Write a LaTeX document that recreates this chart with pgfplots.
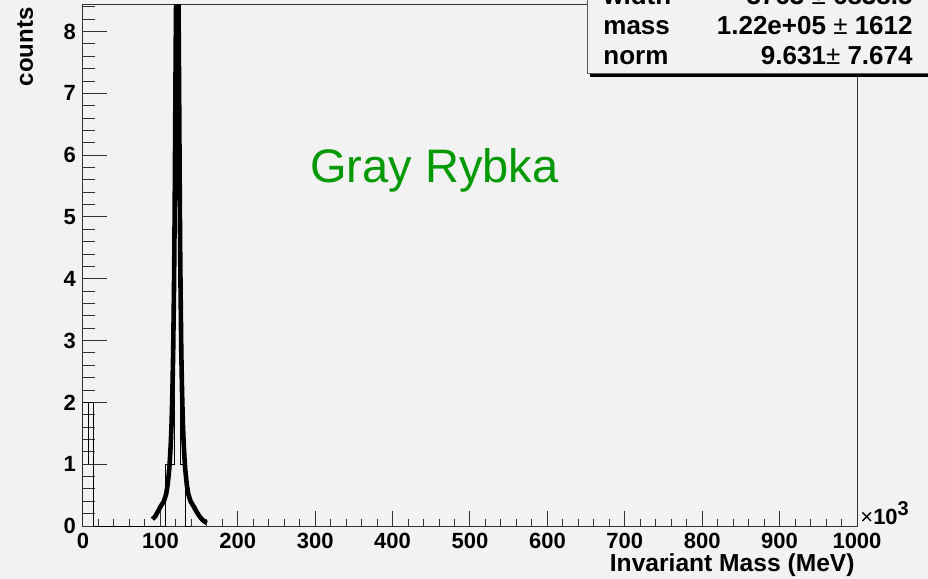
\documentclass[border=0pt]{standalone}
\usepackage{fontspec}
\setmainfont{Liberation Sans}
\usepackage{pgfplots}
\pgfplotsset{compat=1.18}
\definecolor{canvas}{RGB}{242,242,242}
\definecolor{labelgreen}{RGB}{0,153,0}
\begin{document}
\begin{tikzpicture}
\clip (-41.5pt,-26.5pt) rectangle (422.5pt,263pt);
\fill[canvas] (-41.5pt,-26.5pt) rectangle (422.5pt,263pt);
\begin{axis}[
  at={(0pt,0pt)}, anchor=south west,
  scale only axis, width=387pt, height=260.5pt,
  xmin=0, xmax=1000, ymin=0, ymax=8.43,
  axis line style={black!80, line width=0.5pt},
  xtick={0,100,...,1000}, ytick={0,1,...,9},
  minor x tick num=4, minor y tick num=4,
  tick pos=left, tick align=inside,
  major tick length=12pt, minor tick length=6pt,
  xtick style={/pgfplots/major tick length=7.5pt, /pgfplots/minor tick length=3.5pt},
  tick style={black!80, line width=0.5pt},
  ticklabel style={font=\fontsize{11}{12}\selectfont\bfseries},
  /pgf/number format/assume math mode=true,
  /pgf/number format/1000 sep={},
  scaled x ticks=false,
  xlabel={Invariant Mass (MeV)}, ylabel={counts},
  xlabel style={at={([xshift=-1pt,yshift=-22.5pt]rel axis cs:1,0)}, anchor=base east,
    inner sep=0pt, font=\fontsize{12.3}{14}\selectfont\bfseries},
  ylabel style={at={([xshift=-25pt,yshift=-1pt]rel axis cs:0,1)}, anchor=base east,
    inner sep=0pt, font=\fontsize{12}{14}\selectfont\bfseries},
]
% histogram outline
\addplot[const plot mark left, black, line width=0.5pt] coordinates {
  (0,0) (0,2) (13.8,0) (106.8,1) (112,1) (118.2,7) (122.2,8) (126.2,1) (132.8,0) (140,0)};
\addplot[black, line width=0.5pt] coordinates {(7,1) (7,2)};
% fitted Breit-Wigner curve
\addplot[black, line width=2.3pt, line join=round] coordinates {
  (89.8,0.11) (93.5,0.16) (97.5,0.25) (99.5,0.30) (101.5,0.34) (104.5,0.40)
  (107.5,0.52) (109.5,0.68) (111.5,0.93) (112.5,1.12) (113.5,1.36) (114.5,1.68)
  (115.5,2.16) (116.5,2.82) (117.5,3.78) (118,4.40) (118.5,5.20) (119,6.20)
  (119.5,7.20) (120,8.10) (120.7,9.0) (121.2,9.6) (121.8,9.9) (122.4,9.6)
  (122.9,9.0) (123.6,8.10) (124.1,7.20) (124.6,6.20) (125.1,5.20) (125.6,4.40)
  (126.1,3.78) (127,2.82) (128,2.16) (129,1.68) (130,1.36) (131,1.12)
  (132,0.93) (134,0.68) (136,0.52) (139,0.40) (141.8,0.34) (143.8,0.30)
  (145.8,0.25) (149.8,0.17) (153.6,0.11) (156.6,0.075) (159.8,0.05)};
\end{axis}
% exponent of the x axis
\node[anchor=base west, inner sep=0pt, font=\fontsize{11}{12}\selectfont] at (388.5pt,0.5pt)
  {×\textbf{10}\raisebox{4.5pt}{\bfseries\fontsize{10}{11}\selectfont 3}};
% annotation
\node[anchor=base west, inner sep=0pt, text=labelgreen, font=\fontsize{23.5}{28}\selectfont]
  at (113.5pt,171.5pt) {Gray Rybka};
% fit statistics box
\fill[black] (253.5pt,224.5pt) rectangle (440pt,270pt);
\filldraw[fill=canvas, draw=black!65, line width=0.5pt] (252pt,226pt) rectangle (440pt,272pt);
\begin{scope}[every node/.style={inner sep=0pt, font=\fontsize{13}{15}\selectfont\bfseries}]
\node[anchor=base west] at (260pt,260.5pt) {width};
\node[anchor=base east] at (415pt,260.5pt) {3763 {\mdseries ±} 6838.5};
\node[anchor=base west] at (260pt,245.5pt) {mass};
\node[anchor=base east] at (415pt,245.5pt) {1.22e+05 {\mdseries ±} 1612};
\node[anchor=base west] at (260pt,230.5pt) {norm};
\node[anchor=base east] at (415pt,230.5pt) {9.631{\mdseries ±} 7.674};
\end{scope}
\end{tikzpicture}
\end{document}
